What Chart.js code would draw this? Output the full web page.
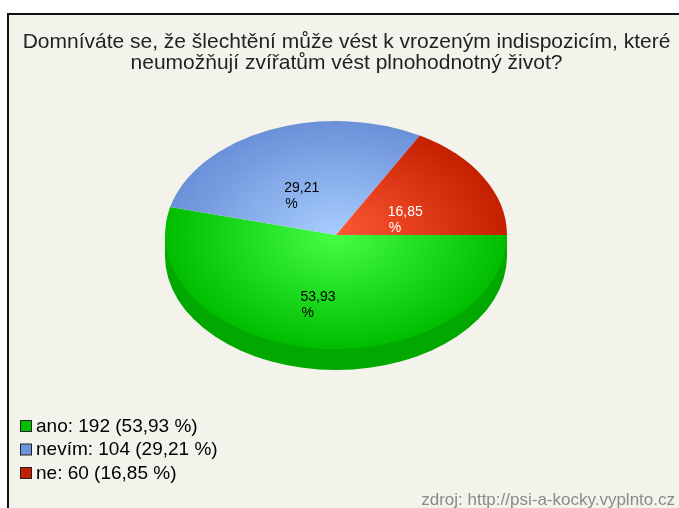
<!DOCTYPE html>
<html><head><meta charset="utf-8">
<style>
html,body{margin:0;padding:0;background:#fff;width:679px;height:508px;overflow:hidden}
#frame{position:absolute;left:7px;top:13px;width:700px;height:600px;box-sizing:border-box;border:2px solid #111;background:#f4f3eb}
#wrap{position:absolute;left:0;top:0;width:679px;height:508px;filter:blur(0.5px)}
</style>
<script src="https://cdn.jsdelivr.net/npm/chart.js@4"></script>
</head><body>
<div id="frame"></div>
<div id="wrap"><canvas id="c" width="679" height="508"></canvas></div>
<script>
const categories = ['ano', 'nevím', 'ne'];
const counts = [192, 104, 60];
const percents = ['53,93', '29,21', '16,85'];
const titleLines = ['Domníváte se, že šlechtění může vést k vrozeným indispozicím, které', 'neumožňují zvířatům vést plnohodnotný život?'];
const sourceText = 'zdroj: http://psi-a-kocky.vyplnto.cz';
const centerColors = ['#44ff44', '#a8ceff', '#ff5836'];
const edgeColors = ['#00bd00', '#6a90d8', '#c42000'];
const flatColors = ['#00c000', '#6a94dc', '#c42000'];
const labelColors = ['#000000', '#000000', '#ffffff'];
const labelNudgeX = [-25, -18, -22];
const sideColor = '#00a800';

const box = {cx: 336, cy: 235, rx: 171, ry: 114, depth: 21};
const legendBox = {left: 20, top: 420, size: 11, step: 23.5};

const placeBoxes = {
  id: 'placeBoxes',
  afterLayout(chart) {
    const a = chart.chartArea;
    a.left = box.cx - box.rx; a.right = box.cx + box.rx;
    a.top = box.cy - box.rx; a.bottom = box.cy + box.rx;
    a.width = a.height = box.rx * 2;
    const t = chart.titleBlock;
    t.left = 22; t.right = 671; t.width = 649; t.top = 31.5;
    const sub = chart.boxes.find(b => b.options && b.options.text === sourceText);
    if (sub) { sub.left = 300; sub.right = 675; sub.width = 375; sub.top = 490; }
    const l = chart.legend, p = l.options.labels.padding;
    const w = l.width;
    l.left = legendBox.left - p; l.right = l.left + w; l.top = legendBox.top - p - 3; l.bottom = l.top + l.height;
  },
  afterDraw(chart) {
    const ctx = chart.ctx;
    ctx.save();
    categories.forEach((n, i) => {
      const y = legendBox.top + i * legendBox.step;
      ctx.fillStyle = flatColors[i];
      ctx.strokeStyle = '#222222';
      ctx.lineWidth = 1;
      ctx.fillRect(legendBox.left + 0.5, y + 0.5, legendBox.size, legendBox.size);
      ctx.strokeRect(legendBox.left + 0.5, y + 0.5, legendBox.size, legendBox.size);
    });
    ctx.restore();
  }
};

const ellipse = {
  id: 'ellipse',
  beforeDatasetsDraw(chart) {
    const ctx = chart.ctx, arc = chart.getDatasetMeta(0).data[0];
    const x = arc.x, y = arc.y, rx = arc.outerRadius, ry = rx * box.ry / box.rx;
    ctx.save();
    ctx.fillStyle = sideColor;
    ctx.beginPath();
    ctx.moveTo(x + rx, y);
    ctx.lineTo(x + rx, y + box.depth);
    ctx.ellipse(x, y + box.depth, rx, ry, 0, 0, Math.PI);
    ctx.lineTo(x - rx, y);
    ctx.closePath();
    ctx.fill();
    ctx.restore();
    ctx.save();
    ctx.translate(x, y);
    ctx.scale(1, box.ry / box.rx);
    ctx.translate(-x, -y);
  },
  afterDatasetsDraw(chart) {
    const ctx = chart.ctx;
    ctx.restore();
    ctx.save();
    ctx.font = '14px "Liberation Sans"';
    ctx.textAlign = 'left';
    ctx.textBaseline = 'middle';
    chart.getDatasetMeta(0).data.forEach((arc, i) => {
      const mid = (arc.startAngle + arc.endAngle) / 2;
      const px = arc.x + Math.cos(mid) * arc.outerRadius * 0.5 + labelNudgeX[i];
      const py = arc.y + Math.sin(mid) * arc.outerRadius * 0.5 * box.ry / box.rx + 6;
      ctx.fillStyle = labelColors[i];
      ctx.fillText(percents[i], px, py);
      ctx.fillText('%', px + 1, py + 16);
    });
    ctx.restore();
  }
};

const radial = (inner, outer) => (c) => {
  const a = c.chart.chartArea;
  if (!a) return outer[c.dataIndex];
  const x = (a.left + a.right) / 2, y = (a.top + a.bottom) / 2;
  const g = c.chart.ctx.createRadialGradient(x, y, 0, x, y, a.width / 2);
  g.addColorStop(0, inner[c.dataIndex]);
  g.addColorStop(1, outer[c.dataIndex]);
  return g;
};

new Chart(document.getElementById('c'), {
  type: 'pie',
  data: {
    labels: categories,
    datasets: [{
      data: counts,
      backgroundColor: radial(centerColors, edgeColors),
      borderWidth: 0,
      hoverOffset: 0
    }]
  },
  plugins: [placeBoxes, ellipse],
  options: {
    responsive: false,
    animation: false,
    events: [],
    rotation: 90,
    plugins: {
      tooltip: {enabled: false},
      title: {
        display: true, text: titleLines, align: 'center', color: '#222222',
        font: {family: '"Liberation Sans"', size: 21, weight: 'normal', lineHeight: 1},
        padding: 0
      },
      subtitle: {
        display: true, text: sourceText, position: 'bottom', align: 'end', color: '#8a8a86',
        font: {family: '"Liberation Sans"', size: 17, weight: 'normal'},
        padding: 0
      },
      legend: {
        position: 'left', align: 'start',
        labels: {
          boxWidth: 6.5, boxHeight: 11, padding: 4.5, color: '#222222',
          font: {family: '"Liberation Sans"', size: 19},
          generateLabels: () => categories.map((n, i) => ({
            text: n + ': ' + counts[i] + ' (' + percents[i] + ' %)',
            fillStyle: 'rgba(0,0,0,0)', strokeStyle: 'rgba(0,0,0,0)', lineWidth: 0, index: i
          }))
        }
      }
    }
  }
});
</script>
</body></html>
